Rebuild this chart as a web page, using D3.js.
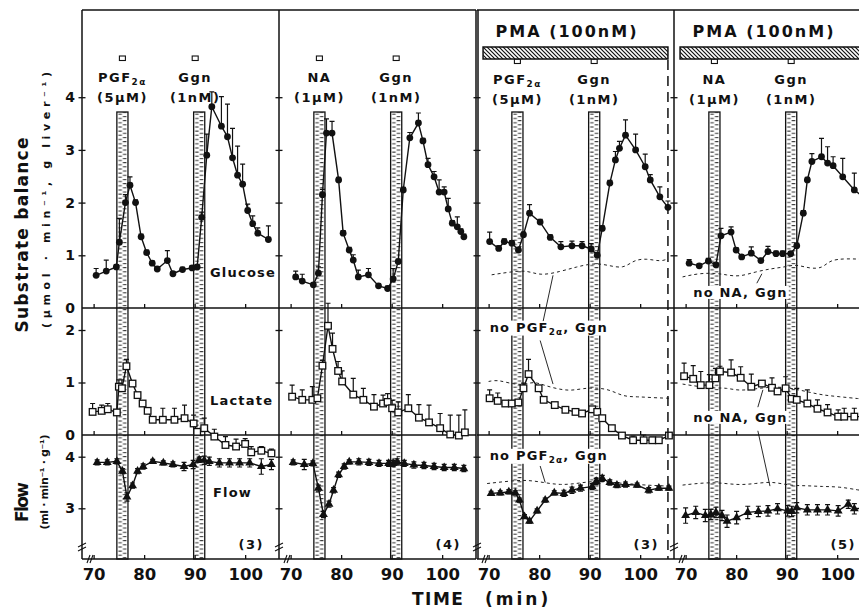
<!DOCTYPE html>
<html>
<head>
<meta charset="UTF-8">
<title>Substrate balance and flow</title>
<script src="https://cdn.jsdelivr.net/npm/d3@7"></script>
<style>
  body { margin: 0; background: #fff; }
  text { font-family: "DejaVu Sans", sans-serif; font-weight: bold; fill: #111; }
</style>
</head>
<body>
<svg id="chart" width="859" height="608"></svg>
<script>
// ---- data: [time (min), mean, SEM] ----
const glu1 = [[70.5,0.62,0.13],[72.5,0.70,0.21],[74.5,0.78,0.04],[75.1,1.25,0.45],[76.3,2.0,0.15],[77.2,2.33,0.16],[78.3,2.0,0.05],[79.4,1.35,0.05],[80.5,1.05,0.05],[81.6,0.85,0.04],[82.6,0.74,0.04],[84.6,0.9,0.19],[85.7,0.65,0.04],[87.6,0.73,0.04],[89.5,0.76,0.04],[90.5,0.78,0.04],[91.4,1.72,0.1],[92.4,2.9,0.4],[93.4,3.82,0.28],[95.3,3.45,0.56],[96.5,3.25,0.62],[97.5,2.85,0.56],[98.5,2.52,0.55],[99.5,2.35,0.38],[100.5,1.85,0.12],[101.5,1.6,0.15],[102.5,1.42,0.1],[104.6,1.3,0.26]];
const lac1 = [[69.8,0.44,0.16],[71.6,0.46,0.11],[72.8,0.49,0.11],[74.6,0.43,0.05],[75.0,0.92,0.13],[75.6,0.89,0.16],[76.5,1.31,0.13],[77.7,0.98,0.05],[78.7,0.76,0.05],[79.7,0.6,0.05],[80.7,0.46,0.05],[81.7,0.29,0.05],[83.7,0.29,0.22],[86.0,0.29,0.22],[88.0,0.32,0.25],[89.8,0.22,0.16],[90.5,0.06,0.05],[91.9,0.13,0.19],[93.9,-0.03,0.14],[96.1,-0.19,0.16],[98.2,-0.22,0.14],[100.0,-0.17,0.1],[101.2,-0.33,0.11],[103.2,-0.30,0.08],[105.2,-0.35,0.08]];
const flow1 = [[70.7,3.89,0.05],[72.7,3.89,0.05],[74.6,3.91,0.05],[75.7,3.72,0.05],[76.6,3.22,0.08],[77.7,3.44,0.05],[78.7,3.72,0.05],[79.8,3.81,0.05],[81.7,3.91,0.04],[83.8,3.88,0.04],[85.7,3.85,0.05],[87.9,3.81,0.08],[89.7,3.85,0.08],[90.9,3.94,0.05],[91.9,3.93,0.08],[92.9,3.91,0.08],[94.9,3.88,0.08],[96.9,3.88,0.08],[98.9,3.88,0.08],[100.9,3.88,0.08],[103.2,3.81,0.15],[105.2,3.85,0.1]];

const glu2 = [[71.0,0.59,0.11],[72.3,0.51,0.13],[74.5,0.44,0.04],[75.5,0.66,0.12],[76.3,2.15,0.1],[77.1,3.32,0.27],[78.2,3.32,0.22],[79.5,2.43,0.05],[80.4,1.42,0.05],[81.6,1.1,0.05],[82.4,0.91,0.1],[83.4,0.59,0.13],[85.4,0.63,0.12],[87.4,0.42,0.04],[89.2,0.37,0.04],[90.3,0.55,0.2],[91.3,0.88,0.05],[92.3,2.24,0.05],[93.6,3.23,0.1],[95.3,3.51,0.19],[96.2,3.17,0.05],[97.2,2.72,0.12],[98.4,2.49,0.1],[99.4,2.2,0.23],[100.4,2.2,0.1],[101.2,1.88,0.2],[102.0,1.61,0.05],[103.0,1.54,0.19],[103.7,1.45,0.05],[104.3,1.35,0.05]];
const lac2 = [[70.3,0.73,0.22],[72.3,0.67,0.19],[74.3,0.67,0.25],[75.3,0.70,0.05],[76.3,1.32,0.1],[77.4,2.08,0.43],[78.3,1.64,0.3],[79.4,1.22,0.18],[80.2,1.02,0.2],[82.4,0.77,0.31],[84.4,0.67,0.22],[86.5,0.54,0.23],[88.3,0.6,0.16],[89.2,0.63,0.16],[90.1,0.51,0.15],[91.3,0.43,0.2],[93.3,0.51,0.26],[95.4,0.33,0.25],[97.4,0.24,0.33],[99.6,0.13,0.28],[101.6,0.01,0.37],[103.3,-0.01,0.39],[104.5,0.05,0.43]];
const flow2 = [[70.5,3.89,0.05],[72.7,3.85,0.1],[74.4,3.87,0.05],[75.5,3.39,0.06],[76.5,2.88,0.06],[77.6,3.08,0.06],[78.5,3.35,0.05],[79.5,3.65,0.05],[80.6,3.81,0.05],[81.6,3.9,0.04],[83.5,3.9,0.06],[85.5,3.89,0.06],[87.5,3.87,0.06],[89.4,3.87,0.06],[90.3,3.87,0.06],[91.1,3.9,0.06],[92.5,3.87,0.06],[94.4,3.84,0.06],[96.4,3.83,0.06],[98.4,3.81,0.06],[100.4,3.79,0.06],[102.4,3.79,0.06],[104.3,3.77,0.06]];

const glu3 = [[70.2,1.26,0.18],[72.0,1.13,0.05],[73.1,1.26,0.05],[74.6,1.23,0.05],[75.9,1.10,0.05],[76.9,1.39,0.05],[78.1,1.8,0.16],[80.2,1.63,0.05],[82.2,1.34,0.05],[84.3,1.16,0.1],[86.5,1.18,0.09],[88.5,1.18,0.08],[90.3,1.12,0.1],[91.5,1.0,0.05],[92.5,1.51,0.05],[94.0,2.37,0.05],[95.1,2.81,0.16],[95.9,3.03,0.13],[97.1,3.28,0.29],[99.1,3.0,0.3],[101.0,2.68,0.24],[102.0,2.43,0.1],[103.9,2.11,0.19],[105.5,1.91,0.12]];
const lac3 = [[70.2,0.70,0.16],[71.8,0.65,0.15],[73.3,0.6,0.04],[74.6,0.6,0.04],[75.9,0.62,0.04],[76.9,0.89,0.1],[77.9,1.16,0.28],[79.9,0.89,0.05],[80.9,0.67,0.04],[83.1,0.57,0.04],[85.2,0.48,0.04],[87.2,0.44,0.04],[88.5,0.41,0.04],[90.5,0.49,0.04],[91.5,0.44,0.04],[92.5,0.32,0.04],[94.4,0.13,0.04],[96.4,-0.01,0.04],[98.6,-0.1,0.08],[100.7,-0.1,0.1],[102.4,-0.1,0.06],[103.7,-0.1,0.04],[105.7,-0.01,0.04]];
const flow3 = [[70.5,3.29,0.04],[72.3,3.3,0.04],[74.0,3.32,0.04],[75.3,3.3,0.04],[76.1,3.16,0.04],[77.1,2.84,0.04],[78.1,2.75,0.04],[79.6,2.95,0.04],[81.2,3.16,0.04],[83.0,3.3,0.04],[84.9,3.29,0.06],[86.5,3.35,0.06],[88.2,3.39,0.06],[90.5,3.42,0.06],[91.3,3.52,0.06],[92.5,3.58,0.06],[94.0,3.5,0.05],[95.4,3.45,0.05],[97.1,3.46,0.05],[99.4,3.45,0.04],[101.7,3.35,0.05],[103.7,3.39,0.04],[105.7,3.39,0.04]];

const glu4 = [[70.7,0.85,0.07],[72.7,0.80,0.04],[74.5,0.89,0.05],[76.0,0.82,0.04],[77.0,1.37,0.14],[79.0,1.44,0.1],[80.0,1.1,0.04],[81.1,0.97,0.04],[83.0,1.04,0.12],[84.9,0.9,0.04],[86.3,1.07,0.1],[87.9,1.03,0.05],[89.2,1.03,0.05],[90.8,1.03,0.04],[92.0,1.18,0.05],[93.3,1.80,0.05],[94.1,2.43,0.05],[95.0,2.78,0.15],[96.9,2.87,0.35],[98.1,2.75,0.31],[99.2,2.70,0.17],[101.1,2.49,0.35],[103.4,2.24,0.32],[105.3,2.1,0.3]];
const lac4 = [[69.7,1.12,0.25],[71.5,1.07,0.25],[73.0,0.95,0.26],[74.7,0.95,0.2],[75.9,1.08,0.19],[76.8,1.21,0.1],[79.0,1.19,0.24],[80.9,1.09,0.21],[83.0,0.92,0.24],[85.1,0.98,0.05],[87.1,0.9,0.19],[88.2,0.83,0.05],[89.8,0.89,0.22],[91.0,0.69,0.05],[92.0,0.67,0.22],[94.1,0.6,0.26],[96.1,0.5,0.17],[98.1,0.43,0.15],[100.2,0.35,0.13],[101.4,0.35,0.16],[103.4,0.35,0.16],[105.3,0.35,0.12]];
const flow4 = [[70.0,2.86,0.15],[72.0,2.92,0.12],[73.9,2.86,0.12],[75.0,2.88,0.1],[76.0,2.92,0.1],[77.2,2.86,0.1],[78.2,2.75,0.12],[80.1,2.82,0.12],[82.3,2.92,0.12],[84.4,2.94,0.1],[86.3,2.95,0.1],[88.2,2.99,0.1],[90.2,2.95,0.1],[91.0,2.94,0.1],[92.0,3.01,0.1],[94.1,2.97,0.1],[96.1,2.97,0.1],[98.1,2.97,0.1],[100.2,2.95,0.1],[102.2,3.08,0.08],[103.4,2.99,0.1],[105.3,3.0,0.1]];

// controls without agonists (dashed), PMA panels only: [time, mean]
const glu3ctl = [[70.6,0.63],[74.0,0.68],[77.5,0.72],[80.2,0.61],[84.1,0.69],[87.4,0.78],[90.7,0.85],[93.4,0.82],[96.7,0.74],[98.7,0.91],[101.3,0.94],[104.0,0.88],[105.4,0.93]];
const lac3ctl = [[70.0,1.02],[71.8,1.05],[74.3,0.98],[76.9,0.95],[78.9,1.02],[80.9,0.95],[83.5,0.88],[86.2,0.84],[88.8,0.89],[91.5,0.9],[94.1,0.86],[96.7,0.73],[99.4,0.73],[102.7,0.71],[105.7,0.7]];
const flow3ctl = [[69.7,3.48],[74.3,3.53],[77.6,3.55],[80.9,3.5],[84.2,3.45],[87.5,3.48],[90.8,3.53],[94.1,3.5],[97.4,3.48],[100.7,3.45],[105.7,3.43]];
const glu4ctl = [[69.4,0.59],[72.7,0.66],[76.0,0.66],[78.0,0.63],[80.6,0.59],[83.9,0.69],[87.2,0.75],[89.8,0.78],[91.8,0.83],[94.5,0.75],[97.1,0.75],[98.5,0.91],[101.7,0.94],[106.0,0.92]];
const lac4ctl = [[69.4,0.97],[72.7,0.92],[76.0,0.89],[78.0,0.9],[80.6,0.84],[83.9,0.88],[87.2,0.92],[90.5,0.9],[93.8,0.83],[97.1,0.76],[100.4,0.73],[104.4,0.69],[106.0,0.68]];
const flow4ctl = [[69.4,3.45],[74.0,3.5],[77.3,3.49],[80.6,3.45],[83.9,3.48],[87.2,3.52],[90.5,3.44],[93.8,3.44],[97.1,3.42],[100.4,3.42],[104.4,3.35],[106.0,3.33]];

// labels / ticks
const xTicks = [70, 80, 90, 100];
const gluTicks = [0, 1, 2, 3, 4], lacTicks = [0, 1, 2], flowTicks = [3, 4];
const stimOn = [74.6, 89.8], stimOff = [76.8, 92.0];
const drugNames = ["PGF|2α", "NA", "PGF|2α", "NA"];
const drugDoses = ["(5µM)", "(1µM)", "(5µM)", "(1µM)"];
const nRats = ["(3)", "(4)", "(3)", "(5)"];
const pmaText = "PMA (100nM)";
const pmaRange = [68.9, 105.5];

const tDomain = [67.7, 106.7];
const panelLeft = [82, 279, 477, 674];
const panelW = 197;

const panels = [
  {glu: glu1, lac: lac1, flow: flow1, pma: false},
  {glu: glu2, lac: lac2, flow: flow2, pma: false},
  {glu: glu3, lac: lac3, flow: flow3, pma: true, ctl: [glu3ctl, lac3ctl, flow3ctl]},
  {glu: glu4, lac: lac4, flow: flow4, pma: true, ctl: [glu4ctl, lac4ctl, flow4ctl]}
];

const svg = d3.select("#chart");
const defs = svg.append("defs");

const yG = d3.scaleLinear().domain([0, 4]).range([308, 97.2]);
const yL = d3.scaleLinear().domain([0, 2]).range([435, 330]);
const yF = d3.scaleLinear().domain([3, 4]).range([508.3, 456.7]);
const yTop = 10, yBottom = 559;

// hatched PMA bar pattern
const hatch = defs.append("pattern").attr("id", "hatch")
  .attr("patternUnits", "userSpaceOnUse").attr("width", 4).attr("height", 4);
hatch.append("rect").attr("width", 4).attr("height", 4).attr("fill", "#fff");
hatch.append("path").attr("d", "M-1,-1L5,5M-1,3L1,5M3,-1L5,1")
  .attr("stroke", "#111").attr("stroke-width", 1.2);

// "PGF|2α" style labels: part after | is a subscript
function subText(sel, label, size) {
  const [main, sub] = label.split("|");
  sel.append("tspan").text(main);
  if (sub) sel.append("tspan").attr("font-size", size * 0.68).attr("dy", 3).text(sub);
}

const line = (x, y) => d3.line().x(d => x(d[0])).y(d => y(d[1]));

panels.forEach((p, i) => {
  const L = panelLeft[i];
  const x = d3.scaleLinear().domain(tDomain).range([L, L + panelW]);
  const g = svg.append("g");

  // stimulus bars (stippled)
  stimOn.forEach((t0, k) => {
    const x0 = x(t0), x1 = x(stimOff[k]);
    const w = x1 - x0;
    const id = `stip${i}${k}`;
    const pat = defs.append("pattern").attr("id", id)
      .attr("patternUnits", "userSpaceOnUse").attr("x", x0).attr("y", 0)
      .attr("width", w).attr("height", 4.2);
    pat.append("rect").attr("width", w).attr("height", 4.2).attr("fill", "#fff");
    pat.append("path")
      .attr("d", `M1.5,1H${w / 2 - 0.5}M${w / 2 + 0.5},3.1H${w - 1.5}`)
      .attr("stroke", "#333").attr("stroke-width", 1.1);
    g.append("rect").attr("x", x0).attr("y", 112).attr("width", w).attr("height", yBottom - 112)
      .attr("fill", `url(#${id})`).attr("stroke", "#111").attr("stroke-width", 1.3);
    // small marker and label above the bar
    const mx = (x0 + x1) / 2 - (k === 1 && i === 0 ? 4 : 0);
    const my = p.pma ? 59 : 56;
    g.append("rect").attr("x", mx - 3).attr("y", my).attr("width", 6).attr("height", 4.5)
      .attr("fill", "#fff").attr("stroke", "#111").attr("stroke-width", 1.1);
    const by = p.pma ? 84 : 82;
    const t1 = g.append("text").attr("x", mx).attr("y", by).attr("text-anchor", "middle")
      .attr("font-size", 13).attr("letter-spacing", 1.5);
    subText(t1, k === 0 ? drugNames[i] : "Ggn", 13);
    g.append("text").attr("x", mx).attr("y", by + 20).attr("text-anchor", "middle")
      .attr("font-size", 13).attr("letter-spacing", 1.5)
      .text(k === 0 ? drugDoses[i] : "(1nM)");
  });

  // PMA bar and title
  if (p.pma) {
    g.append("rect").attr("x", x(pmaRange[0])).attr("y", 47)
      .attr("width", x(pmaRange[1]) - x(pmaRange[0])).attr("height", 12)
      .attr("fill", "url(#hatch)").attr("stroke", "#111").attr("stroke-width", 1.5);
    g.append("text").attr("x", L + 90).attr("y", 37).attr("text-anchor", "middle")
      .attr("font-size", 16).attr("letter-spacing", 2).text(pmaText);
  }

  // horizontal frame lines and upward x ticks
  [yTop, yG(0), yL(0), yBottom].forEach((yy, r) => {
    g.append("line").attr("x1", L).attr("x2", L + panelW).attr("y1", yy).attr("y2", yy)
      .attr("stroke", "#111").attr("stroke-width", 1.5);
    if (r === 0) return;
    const ax = g.append("g").attr("transform", `translate(0,${yy})`)
      .call(d3.axisBottom(x).tickValues(xTicks).tickSize(-4).tickPadding(9)
        .tickFormat(r === 3 ? d3.format("d") : ""));
    ax.select(".domain").remove();
    ax.selectAll("line").attr("stroke", "#111").attr("stroke-width", 1.3);
    ax.selectAll("text").attr("font-size", 16.5).attr("fill", "#111")
      .attr("font-family", "DejaVu Sans").attr("font-weight", "bold");
  });

  // vertical borders with crossing ticks
  const borders = i === 2 ? [L - 1, L + 1] : [L];
  borders.forEach(bx => {
    g.append("line").attr("x1", bx).attr("x2", bx).attr("y1", yTop).attr("y2", yBottom)
      .attr("stroke", "#111").attr("stroke-width", 1.5);
  });
  [[yG, gluTicks.slice(1)], [yL, lacTicks.slice(1)], [yF, flowTicks]].forEach(([sc, tv]) => {
    [d3.axisLeft, d3.axisRight].forEach(ax => {
      const a = g.append("g").attr("transform", `translate(${L},0)`)
        .call(ax(sc).tickValues(tv).tickSize(3.5).tickFormat(""));
      a.select(".domain").remove();
      a.selectAll("line").attr("stroke", "#111").attr("stroke-width", 1.3);
    });
  });

  // axis breaks
  g.append("path")
    .attr("d", `M${L - 4},551L${L + 4},547M${L - 4},547L${L + 4},543` +
      `M${L + 5},563L${L + 8},555M${L + 8},563L${L + 11},555`)
    .attr("stroke", "#111").attr("stroke-width", 1.1).attr("fill", "none");

  // dashed control curves
  if (p.ctl) {
    [yG, yL, yF].forEach((sc, k) => {
      g.append("path").datum(p.ctl[k]).attr("d", line(x, sc).curve(d3.curveBasis))
        .attr("fill", "none").attr("stroke", "#222").attr("stroke-width", 1)
        .attr("stroke-dasharray", "3,3");
    });
  }

  // data series
  const series = [[p.glu, yG, "glu"], [p.lac, yL, "lac"], [p.flow, yF, "flow"]];
  series.forEach(([data, sc, kind]) => {
    g.append("path").datum(data).attr("d", line(x, sc))
      .attr("fill", "none").attr("stroke", "#111").attr("stroke-width", 1.4);
    g.append("path")
      .attr("d", data.map(d => {
        const X = x(d[0]), y0 = sc(d[1]), y1 = sc(d[1] + d[2]);
        let s = `M${X},${y0}V${y1}M${X - 2.5},${y1}H${X + 2.5}`;
        if (kind === "flow") {
          const y2 = sc(d[1] - d[2]);
          s += `M${X},${y0}V${y2}M${X - 2.5},${y2}H${X + 2.5}`;
        }
        return s;
      }).join(""))
      .attr("fill", "none").attr("stroke", "#111").attr("stroke-width", 1.2);
    if (kind === "glu") {
      g.selectAll(null).data(data).join("circle")
        .attr("cx", d => x(d[0])).attr("cy", d => sc(d[1])).attr("r", 3.4).attr("fill", "#111");
    } else if (kind === "lac") {
      g.selectAll(null).data(data).join("rect")
        .attr("x", d => x(d[0]) - 3.3).attr("y", d => sc(d[1]) - 3.3)
        .attr("width", 6.6).attr("height", 6.6)
        .attr("fill", "#fff").attr("stroke", "#111").attr("stroke-width", 1.3);
    } else {
      g.selectAll(null).data(data).join("path")
        .attr("transform", d => `translate(${x(d[0])},${sc(d[1])})`)
        .attr("d", d3.symbol(d3.symbolTriangle, 34)).attr("fill", "#111");
    }
  });

  // n
  g.append("text").attr("x", L + 182).attr("y", 549).attr("text-anchor", "end")
    .attr("font-size", 13).attr("letter-spacing", 1.5).text(nRats[i]);

  // panel-specific annotations
  const note = (tx, ty, label) => {
    const t = g.append("text").attr("x", tx).attr("y", ty)
      .attr("font-size", 13).attr("letter-spacing", 1.2);
    subText(t, label, 13);
    if (label.includes("|")) t.append("tspan").attr("dy", -3).text(", Ggn");
    const bb = t.node().getBBox();
    g.insert("rect", () => t.node()).attr("x", bb.x - 1).attr("y", bb.y + 1)
      .attr("width", bb.width + 2).attr("height", bb.height - 2).attr("fill", "#fff");
  };
  const lead = (a, b) => g.append("path").attr("d", `M${a[0]},${a[1]}L${b[0]},${b[1]}`)
    .attr("stroke", "#111").attr("stroke-width", 0.9).attr("fill", "none");

  if (i === 0) {
    g.append("text").attr("x", 210).attr("y", 277).attr("font-size", 13).attr("letter-spacing", 1.2).text("Glucose");
    g.append("text").attr("x", 210).attr("y", 405).attr("font-size", 13).attr("letter-spacing", 1.2).text("Lactate");
    g.append("text").attr("x", 213).attr("y", 497).attr("font-size", 13).attr("letter-spacing", 1.2).text("Flow");
  }
  if (i === 2) {
    note(x(70.2), yL(1.97), "no PGF|2α");
    note(x(70.2), yF(3.94), "no PGF|2α");
    lead([x(80.8), yL(2.17)], [x(82.75), yG(0.62)]);
    lead([x(80.2), yL(1.8)], [x(82.75), yL(0.97)]);
    lead([x(80.2), yF(3.82)], [x(81.2), yF(3.5)]);
    g.append("line").attr("x1", x(105.5)).attr("x2", x(105.5)).attr("y1", 60).attr("y2", yBottom)
      .attr("stroke", "#111").attr("stroke-width", 1.5).attr("stroke-dasharray", "10,6");
  }
  if (i === 3) {
    note(x(71.5), yG(0.21), "no NA, Ggn");
    note(x(71.5), yL(0.25), "no NA, Ggn");
    lead([x(84.1), yG(0.47)], [x(85.1), yG(0.65)]);
    lead([x(84.3), yL(0.53)], [x(85.3), yL(0.86)]);
    lead([x(84.3), yL(0.08)], [x(86.7), yF(3.43)]);
  }
});

// y tick labels on the first panel
[[yG, gluTicks], [yL, lacTicks], [yF, flowTicks]].forEach(([sc, tv]) => {
  const a = svg.append("g").attr("transform", "translate(82,0)")
    .call(d3.axisLeft(sc).tickValues(tv).tickSize(0).tickPadding(7).tickFormat(d3.format("d")));
  a.select(".domain").remove();
  a.selectAll("text").attr("font-size", 14).attr("fill", "#111")
    .attr("font-family", "DejaVu Sans").attr("font-weight", "bold");
});

// axis titles
svg.append("text").attr("transform", "translate(28,235) rotate(-90)").attr("text-anchor", "middle")
  .attr("font-size", 17).attr("textLength", 195).attr("lengthAdjust", "spacing").text("Substrate balance");
svg.append("text").attr("transform", "translate(50,200) rotate(-90)").attr("text-anchor", "middle")
  .attr("font-size", 11).attr("textLength", 256).attr("lengthAdjust", "spacing").text("(µmol · min⁻¹, g liver⁻¹)");
svg.append("text").attr("transform", "translate(28,502) rotate(-90)").attr("text-anchor", "middle")
  .attr("font-size", 17).attr("textLength", 40).attr("lengthAdjust", "spacing").text("Flow");
svg.append("text").attr("transform", "translate(48,482) rotate(-90)").attr("text-anchor", "middle")
  .attr("font-size", 11).attr("textLength", 95).attr("lengthAdjust", "spacing").text("(ml · min⁻¹ · g⁻¹)");
svg.append("text").attr("x", 412).attr("y", 605).attr("font-size", 17).attr("letter-spacing", 1.5).text("TIME");
svg.append("text").attr("x", 485).attr("y", 605).attr("font-size", 17).attr("letter-spacing", 3).text("(min)");
</script>
</body>
</html>
